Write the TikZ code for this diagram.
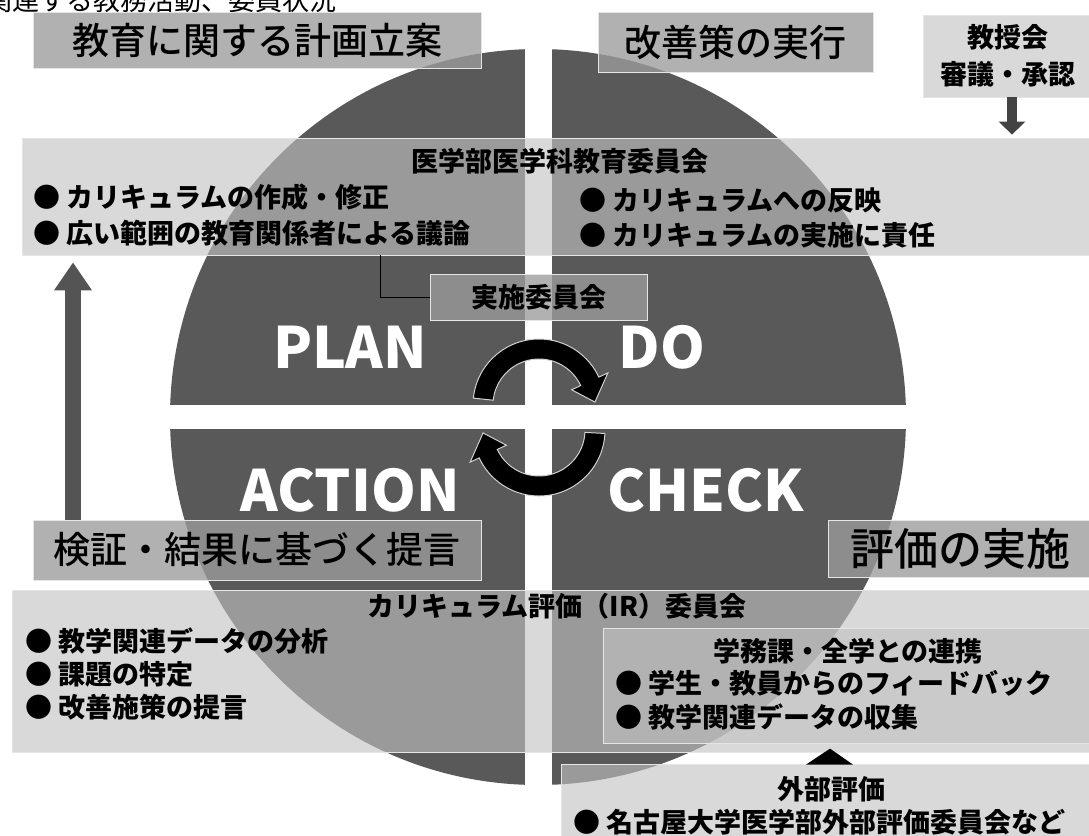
\documentclass[tikz,border=0pt]{standalone}
\usepackage{fontspec}
\setmainfont{Noto Sans CJK JP}
\newfontfamily\jpm{Noto Sans CJK JP Medium}
\usetikzlibrary{arrows.meta}
\definecolor{piec}{gray}{0.35}
\definecolor{tboxg}{gray}{0.61}
\definecolor{lboxg}{gray}{0.76}
\definecolor{edgec}{gray}{0.9}
\definecolor{arrg}{gray}{0.33}
\tikzset{
  titlebox/.style={fill=tboxg, fill opacity=0.78, text opacity=1, draw=edgec, draw opacity=1, line width=0.8pt, inner sep=0pt, font=\jpm\fontsize{37}{40}\selectfont},
  lightbox/.style={fill=lboxg, fill opacity=0.62, text opacity=1, draw=edgec, draw opacity=1, line width=0.8pt, inner sep=0pt},
  bul/.style={anchor=west, inner sep=0pt, font=\bfseries\fontsize{27}{30}\selectfont},
  hd/.style={inner sep=0pt, font=\bfseries\fontsize{27}{30}\selectfont},
  pdca/.style={text=white, inner sep=0pt, font=\bfseries\fontsize{57}{60}\selectfont},
  carrow/.style={fill=black, draw=gray!35, line width=1pt},
}
\begin{document}
\begin{tikzpicture}[x=1pt,y=1pt]
\useasboundingbox (0,-835) rectangle (1089,0);
\clip (0,-835) rectangle (1089,0);
\fill[white] (0,-835) rectangle (1089,0);
% cut-off line at the top
\node[anchor=base west, inner sep=0pt, font=\fontsize{27}{30}\selectfont] (cut) at (-15,-10) {関連する教務活動、委員状況};
% pie
\fill[piec] (538,-417) circle[radius=368];
\fill[white] (525,-40) rectangle (552,-800);
\fill[white] (160,-405) rectangle (920,-429);
% PDCA labels
\node[pdca] (plan) at (350,-347) {PLAN};
\node[pdca] (do) at (662,-347) {DO};
\node[pdca] (act) at (350,-490) {ACTION};
\node[pdca] (chk) at (706,-490) {CHECK};
% circular arrows
\begin{scope}[shift={(539,-405)}]
\filldraw[carrow] (174:66) arc[start angle=174, end angle=25, radius=66] -- (25:76) -- (3:56) -- (25:36) -- (25:46) arc[start angle=25, end angle=174, radius=46] -- cycle;
\end{scope}
\begin{scope}[shift={(539,-430)}]
\filldraw[carrow] (-3:66) arc[start angle=-3, end angle=-155, radius=66] -- (-155:76) -- (-177:56) -- (-155:36) -- (-155:46) arc[start angle=-155, end angle=-3, radius=46] -- cycle;
\end{scope}
% top title boxes
\node[titlebox, minimum width=448, minimum height=56] (planbox) at (257,-40) {教育に関する計画立案};
\node[titlebox, minimum width=275, minimum height=60] (dobox) at (735.5,-42) {改善策の実行};
\node[lightbox, minimum width=170, minimum height=82, align=center, font=\bfseries\fontsize{27}{37}\selectfont] (kyoju) at (1008,-56) {教授会\\審議・承認};
% band 1
\node[lightbox, minimum width=1073, minimum height=117] (band1) at (558.5,-196.5) {};
\node[hd] (b1t) at (560,-161) {医学部医学科教育委員会};
\node[bul] (b1a) at (33,-197) {●\ カリキュラムの作成・修正};
\node[bul] (b1b) at (33,-233) {●\ 広い範囲の教育関係者による議論};
\node[bul] (b1c) at (579,-200) {●\ カリキュラムへの反映};
\node[bul] (b1d) at (579,-235) {●\ カリキュラムの実施に責任};
\coordinate (dx) at (1012,0);
\draw[arrg!80!black, line width=10pt, -{Triangle[width=26pt,length=13pt]}] (kyoju.south -| dx) -- ([yshift=3pt]band1.north -| dx);
% implementation committee
\node[titlebox, minimum width=217, minimum height=46, font=\bfseries\fontsize{27}{30}\selectfont] (jisshi) at (538.5,-297) {実施委員会};
\coordinate (cx) at (380,0);
\draw[black, line width=0.8pt] (band1.south -| cx) |- (jisshi.west);
% lower title boxes
\coordinate (ax) at (73,0);
\node[titlebox, minimum width=448, minimum height=60] (kensho) at (257,-550) {検証・結果に基づく提言};
\node[titlebox, minimum width=264, minimum height=57, font=\jpm\fontsize{44}{46}\selectfont] (hyoka) at (960,-548.5) {評価の実施};
% band 2
\node[lightbox, minimum width=1082, minimum height=162] (band2) at (553,-671) {};
\node[hd] (b2t) at (557,-606) {カリキュラム評価（IR）委員会};
\node[bul] (b2a) at (25,-641) {●\ 教学関連データの分析};
\node[bul] (b2b) at (25,-674) {●\ 課題の特定};
\node[bul] (b2c) at (25,-707) {●\ 改善施策の提言};
\node[lightbox, minimum width=491, minimum height=115] (inner) at (848.5,-685.5) {};
\node[hd] (it) at (848,-651) {学務課・全学との連携};
\node[bul] (ia) at (615,-683) {●\ 学生・教員からのフィードバック};
\node[bul] (ib) at (615,-717) {●\ 教学関連データの収集};
% external evaluation
\node[lightbox, minimum width=533, minimum height=76] (gaibu) at (827.5,-802) {};
\node[hd] (gt) at (831,-789) {外部評価};
\node[bul] (ga) at (573,-822) {●\ 名古屋大学医学部外部評価委員会など};
\coordinate (tx) at (830,0);
\fill[black] ([xshift=-24pt,yshift=-1pt]gaibu.north -| tx) -- ([yshift=15pt]gaibu.north -| tx) -- ([xshift=23pt,yshift=-1pt]gaibu.north -| tx) -- cycle;
% upward arrow on the left
\draw[arrg, line width=16pt, -{Triangle[width=36pt,length=28pt]}] (kensho.north -| ax) -- ([yshift=-7pt]band1.south -| ax);
\end{tikzpicture}
\end{document}
